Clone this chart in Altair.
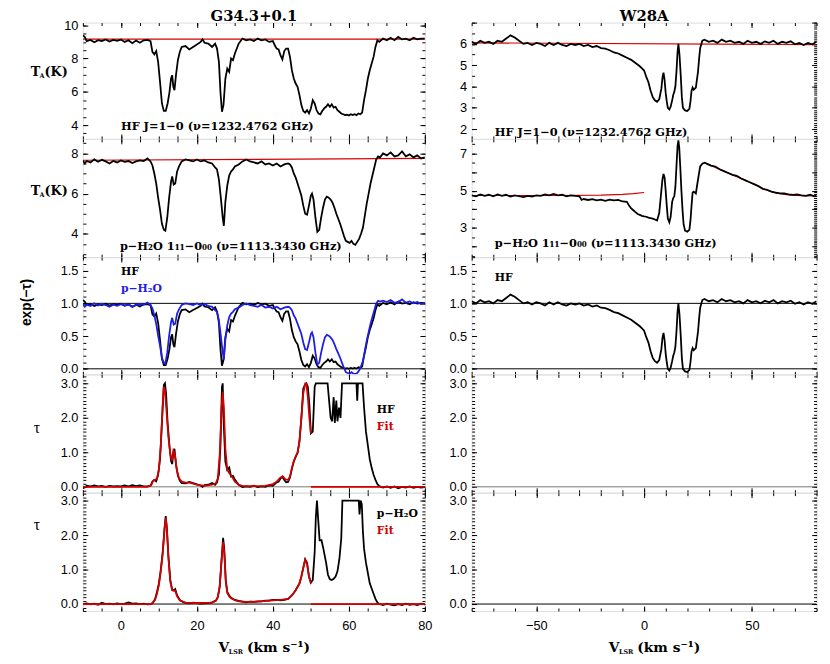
import altair as alt
import pandas as pd

# ======================= DATA =======================
# ---- G34.3+0.1 (left column), (velocity km/s, value) ----
G_HF_TA = [(-10,9.40),(-9.5,9.30),(-9,9.05),(-8,9.12),(-7,8.98),(-6,9.10),(-5,9.05),(-4,9.15),(-3,9.02),(-2,9.12),(-1,9.06),(0,9.14),(1,9.00),(2,9.10),(3,8.92),(4,9.08),(5,8.95),(6,9.10),(7,9.12),(7.8,9.05),(8.3,8.40),(8.8,8.25),(9.3,8.45),(9.8,7.8),(10.3,6.6),(10.8,5.3),(11.3,4.85),(11.8,4.85),(12.3,5.3),(12.8,6.0),(13.2,6.8),(13.5,7.0),(13.8,6.3),(14.1,6.1),(14.5,7.0),(15.0,7.9),(15.5,8.4),(16,8.7),(17,8.75),(18,8.55),(19,8.7),(20,8.85),(21,9.0),(21.5,9.15),(22,8.95),(23,8.9),(24,8.7),(24.8,8.9),(25.3,8.6),(25.8,7.8),(26.2,6.0),(26.6,4.8),(27.0,5.2),(27.5,6.8),(28.0,7.4),(28.5,7.2),(29.0,8.0),(29.5,7.9),(30.0,8.3),(31,8.9),(32,9.2),(33,9.1),(34,9.15),(35,9.05),(36,9.2),(37,9.1),(38,9.15),(39,9.0),(40,9.05),(40.5,8.8),(41,8.6),(41.5,8.55),(42,8.2),(42.5,7.95),(43,8.45),(43.5,8.6),(44,8.6),(44.5,8.1),(45,7.3),(45.5,6.8),(46,6.5),(46.5,6.3),(47,5.8),(47.5,5.2),(48,4.85),(48.5,4.75),(49,4.9),(49.5,4.7),(50,5.0),(50.5,5.5),(51,5.3),(51.5,4.9),(52,4.7),(52.5,4.65),(53,4.85),(53.5,5.0),(54,5.1),(54.5,5.25),(55,5.1),(55.5,5.25),(56,5.05),(56.5,5.1),(57,4.9),(57.5,4.8),(58,4.7),(58.5,4.65),(59,4.6),(59.5,4.62),(60,4.58),(60.5,4.65),(61,4.6),(61.5,4.65),(62,4.6),(62.5,4.7),(63,4.65),(63.5,4.75),(64,5.5),(64.5,6.1),(65,6.8),(65.5,7.3),(66,7.7),(66.5,8.1),(67,8.7),(67.5,9.1),(68,9.0),(69,9.2),(70,9.1),(71,9.25),(72,9.1),(73,9.3),(74,9.15),(75,9.2),(76,9.1),(77,9.25),(78,9.15),(79,9.2),(80,9.2)]
G_HF_CONT = [(-10,9.17),(80,9.17)]

G_H2O_TA = [(-10,7.65),(-9.5,7.50),(-9,7.62),(-8,7.55),(-7,7.70),(-6,7.58),(-5,7.68),(-4,7.60),(-3,7.50),(-2,7.62),(-1,7.55),(0,7.65),(1,7.58),(2,7.62),(3,7.52),(4,7.60),(5,7.65),(6,7.62),(7,7.75),(7.8,7.6),(8.3,7.4),(8.8,7.0),(9.3,6.5),(9.8,5.8),(10.3,5.2),(10.8,4.5),(11.3,4.2),(11.7,4.15),(12.2,4.8),(12.7,5.8),(13.2,6.6),(13.5,6.85),(13.9,6.45),(14.3,6.5),(14.8,7.1),(15.3,7.35),(16,7.6),(17,7.7),(18,7.65),(19,7.6),(20,7.7),(21,7.6),(22,7.65),(23,7.55),(24,7.5),(24.8,7.3),(25.3,7.2),(25.8,6.7),(26.3,5.8),(26.8,4.8),(27.1,4.4),(27.5,5.6),(28,6.4),(28.5,6.9),(29,7.1),(29.5,7.2),(30,7.35),(31,7.45),(32,7.6),(33,7.7),(34,7.6),(35,7.55),(36,7.5),(37,7.6),(38,7.45),(39,7.5),(40,7.4),(41,7.5),(42,7.35),(43,7.45),(44,7.5),(44.5,7.45),(45,7.3),(45.5,7.0),(46,6.8),(46.5,6.5),(47,6.2),(47.5,5.9),(48,5.4),(48.5,5.0),(49,4.95),(49.5,5.4),(50,5.9),(50.3,6.0),(50.7,5.7),(51.2,4.8),(51.7,4.1),(52.2,4.2),(52.7,4.8),(53.2,5.3),(53.7,5.7),(54.2,5.85),(54.7,5.8),(55.2,5.7),(55.7,5.55),(56.2,5.3),(56.7,5.0),(57.2,4.75),(57.7,4.5),(58.2,4.2),(58.7,3.9),(59.2,3.65),(59.7,3.6),(60.2,3.55),(60.7,3.65),(61.2,3.5),(61.7,3.45),(62.2,3.6),(62.7,3.75),(63.2,4.0),(63.7,4.3),(64.2,4.9),(64.7,5.5),(65.2,6.0),(65.7,6.5),(66.2,6.9),(66.7,7.3),(67.2,7.7),(67.7,7.85),(68.2,7.8),(69,8.0),(70,7.9),(71,8.05),(72,7.85),(73,7.9),(74,8.1),(75,7.85),(76,7.95),(77,7.8),(78,7.9),(79,7.75),(80,7.8)]
G_H2O_CONT = [(-10,7.66),(80,7.75)]

G_HF_EXP = [(-10,1.05),(-9.5,1.028),(-9,0.974),(-8,0.989),(-7,0.959),(-6,0.985),(-5,0.974),(-4,0.996),(-3,0.967),(-2,0.989),(-1,0.976),(0,0.993),(1,0.963),(2,0.985),(3,0.945),(4,0.98),(5,0.952),(6,0.985),(7,0.989),(7.8,0.974),(8.3,0.832),(8.8,0.799),(9.3,0.843),(9.8,0.701),(10.3,0.439),(10.8,0.156),(11.3,0.058),(11.8,0.058),(12.3,0.156),(12.8,0.309),(13.2,0.483),(13.5,0.527),(13.8,0.374),(14.1,0.33),(14.5,0.527),(15.0,0.723),(15.5,0.832),(16,0.897),(17,0.908),(18,0.865),(19,0.897),(20,0.93),(21,0.963),(21.5,0.996),(22,0.952),(23,0.941),(24,0.897),(24.8,0.941),(25.3,0.876),(25.8,0.701),(26.2,0.309),(26.6,0.047),(27.0,0.134),(27.5,0.483),(28.0,0.614),(28.5,0.57),(29.0,0.745),(29.5,0.723),(30.0,0.81),(31,0.941),(32,1.007),(33,0.985),(34,0.996),(35,0.974),(36,1.007),(37,0.985),(38,0.996),(39,0.963),(40,0.974),(40.5,0.919),(41,0.876),(41.5,0.865),(42,0.788),(42.5,0.734),(43,0.843),(43.5,0.876),(44,0.876),(44.5,0.767),(45,0.592),(45.5,0.483),(46,0.418),(46.5,0.374),(47,0.265),(47.5,0.134),(48,0.058),(48.5,0.036),(49,0.069),(49.5,0.025),(50,0.091),(50.5,0.2),(51,0.156),(51.5,0.069),(52,0.025),(52.5,0.014),(53,0.058),(53.5,0.091),(54,0.112),(54.5,0.145),(55,0.112),(55.5,0.145),(56,0.101),(56.5,0.112),(57,0.069),(57.5,0.047),(58,0.025),(58.5,0.014),(59,0.003),(59.5,0.008),(60,-0.001),(60.5,0.014),(61,0.003),(61.5,0.014),(62,0.003),(62.5,0.025),(63,0.014),(63.5,0.036),(64,0.2),(64.5,0.33),(65,0.483),(65.5,0.592),(66,0.679),(66.5,0.767),(67,0.897),(67.5,0.985),(68,0.963),(69,1.007),(70,0.985),(71,1.017),(72,0.985),(73,1.028),(74,0.996),(75,1.007),(76,0.985),(77,1.017),(78,0.996),(79,1.007),(80,1.007)]

G_H2O_EXP = [(-10,0.987),(-9.5,0.948),(-9,0.979),(-8,0.961),(-7,1.0),(-6,0.968),(-5,0.994),(-4,0.974),(-3,0.948),(-2,0.979),(-1,0.961),(0,0.987),(1,0.968),(2,0.979),(3,0.953),(4,0.974),(5,0.987),(6,0.979),(7,1.013),(7.8,0.974),(8.3,0.922),(8.8,0.818),(9.3,0.688),(9.8,0.506),(10.3,0.35),(10.8,0.169),(11.3,0.091),(11.7,0.078),(12.2,0.247),(12.7,0.506),(13.2,0.714),(13.5,0.779),(13.9,0.675),(14.3,0.688),(14.8,0.844),(15.3,0.909),(16,0.974),(17,1.0),(18,0.987),(19,0.974),(20,1.0),(21,0.974),(22,0.987),(23,0.961),(24,0.948),(24.8,0.896),(25.3,0.87),(25.8,0.74),(26.3,0.506),(26.8,0.247),(27.1,0.143),(27.5,0.454),(28,0.662),(28.5,0.792),(29,0.844),(29.5,0.87),(30,0.909),(31,0.935),(32,0.974),(33,1.0),(34,0.974),(35,0.961),(36,0.948),(37,0.974),(38,0.935),(39,0.948),(40,0.922),(41,0.948),(42,0.909),(43,0.935),(44,0.948),(44.5,0.935),(45,0.896),(45.5,0.818),(46,0.766),(46.5,0.688),(47,0.61),(47.5,0.532),(48,0.402),(48.5,0.299),(49,0.286),(49.5,0.402),(50,0.532),(50.3,0.558),(50.7,0.48),(51.2,0.247),(51.7,0.065),(52.2,0.091),(52.7,0.247),(53.2,0.376),(53.7,0.48),(54.2,0.519),(54.7,0.506),(55.2,0.48),(55.7,0.441),(56.2,0.376),(56.7,0.299),(57.2,0.234),(57.7,0.169),(58.2,0.091),(58.7,0.013),(59.2,-0.052),(59.7,-0.065),(60.2,-0.078),(60.7,-0.052),(61.2,-0.075),(61.7,-0.08),(62.2,-0.065),(62.7,-0.026),(63.2,0.039),(63.7,0.117),(64.2,0.273),(64.7,0.428),(65.2,0.558),(65.7,0.688),(66.2,0.792),(66.7,0.896),(67.2,1.0),(67.7,1.039),(68.2,1.026),(69,1.04),(70,1.02),(71,1.05),(72,1.01),(73,1.02),(74,1.06),(75,1.01),(76,1.03),(77,1.0),(78,1.02),(79,0.99),(80,1.01)]

G_HF_TAU = [(-10,-0.04),(-9.5,-0.02),(-9,0.03),(-8,0.01),(-7,0.04),(-6,0.015),(-5,0.03),(-4,0.0),(-3,0.03),(-2,0.01),(-1,0.02),(0,0.01),(1,0.04),(2,0.015),(3,0.05),(4,0.02),(5,0.04),(6,0.015),(7,0.01),(7.8,0.03),(8.3,0.15),(8.8,0.2),(9.3,0.16),(9.8,0.35),(10.3,0.8),(10.8,1.85),(11.3,2.95),(11.6,3.0),(11.9,2.7),(12.3,1.85),(12.8,1.17),(13.2,0.75),(13.5,0.66),(13.8,1.0),(14.1,1.1),(14.5,0.65),(15.0,0.32),(15.5,0.18),(16,0.11),(17,0.1),(18,0.14),(19,0.11),(20,0.07),(21,0.04),(21.5,0.0),(22,0.05),(23,0.06),(24,0.11),(24.8,0.06),(25.3,0.13),(25.8,0.36),(26.2,1.17),(26.6,2.9),(26.8,3.0),(27.0,2.0),(27.5,0.73),(28.0,0.49),(28.5,0.56),(29.0,0.3),(29.5,0.32),(30.0,0.21),(31,0.06),(32,-0.01),(33,0.015),(34,0.0),(35,0.03),(36,-0.01),(37,0.015),(38,0.0),(39,0.04),(40,0.03),(40.5,0.08),(41,0.13),(41.5,0.15),(42,0.24),(42.5,0.3),(43,0.2),(43.5,0.13),(44,0.14),(44.5,0.27),(45,0.52),(45.5,0.73),(46,0.87),(46.5,0.98),(47,1.33),(47.5,2.0),(48,2.85),(48.4,2.95),(48.8,3.0),(49.2,2.9),(49.6,2.4),(50.0,1.55),(50.5,1.6),(51.0,2.9),(51.3,3.0),(54.4,3.0),(54.8,2.5),(55.2,2.0),(55.6,1.9),(56.0,2.6),(56.3,1.85),(56.7,2.5),(57.0,1.9),(57.4,2.3),(57.8,2.0),(58.2,3.0),(62.0,3.0),(62.2,2.5),(62.4,3.0),(63.6,3.0),(64.0,2.3),(64.5,1.6),(65.0,1.2),(65.5,0.8),(66.0,0.55),(66.5,0.35),(67.0,0.2),(67.5,0.08),(68,0.02),(69,-0.02),(70,0.01),(71,-0.03),(72,0.01),(73,-0.04),(74,0.0),(75,-0.02),(76,0.01),(77,-0.03),(78,0.0),(79,-0.02),(80,-0.01)]
G_HF_FIT = [(-10,0.0),(7,0.0),(8,0.05),(8.5,0.18),(9,0.2),(9.5,0.24),(10,0.5),(10.5,1.2),(11,2.4),(11.3,2.9),(11.6,2.8),(12,2.2),(12.5,1.45),(13,0.95),(13.4,0.75),(13.8,1.05),(14.2,0.95),(14.7,0.5),(15.3,0.25),(16,0.15),(17,0.12),(18,0.12),(19,0.09),(20,0.06),(22,0.03),(24,0.06),(25,0.1),(25.5,0.25),(26,0.9),(26.5,2.3),(26.8,2.75),(27.1,2.3),(27.5,1.1),(28,0.5),(28.5,0.4),(29,0.33),(29.5,0.25),(30,0.15),(31,0.06),(32,0.03),(35,0.02),(38,0.03),(40,0.08),(41,0.15),(42,0.27),(42.7,0.3),(43.3,0.22),(44,0.2),(44.5,0.3),(45,0.55),(45.5,0.75),(46,0.88),(46.5,1.0),(47,1.3),(47.5,2.0),(48,2.7),(48.5,3.0),(48.8,3.0),(49.2,2.6),(49.6,2.0),(50,1.55)]
G_HF_FIT_TAIL = [(50,0.0),(80,0.0)]

G_H2O_TAU = [(-10,0.0),(-9,0.02),(-8,-0.01),(-7,0.01),(-6,-0.02),(-5,0.04),(-4,0.0),(-3,0.01),(-2,-0.01),(-1,0.02),(0,0.0),(1,0.01),(2,0.05),(3,0.01),(4,0.02),(5,0.0),(6,0.01),(7,-0.01),(8,0.0),(8.5,0.05),(9,0.15),(9.5,0.35),(10,0.6),(10.5,1.0),(11,1.5),(11.5,2.2),(11.8,2.55),(12.1,2.2),(12.5,1.4),(13,0.7),(13.5,0.42),(14,0.4),(14.3,0.43),(14.8,0.25),(15.5,0.12),(16.5,0.05),(18,0.02),(19,0.04),(20,0.03),(21,0.01),(22,0.02),(23,0.03),(24,0.05),(25,0.1),(25.5,0.2),(26,0.5),(26.5,1.3),(26.9,1.92),(27.2,1.6),(27.6,0.7),(28,0.35),(28.5,0.25),(29,0.18),(30,0.12),(31,0.09),(32,0.07),(33,0.05),(34,0.07),(35,0.06),(36,0.08),(37,0.08),(38,0.1),(39,0.1),(40,0.12),(41,0.12),(42,0.11),(43,0.12),(44,0.15),(45,0.25),(46,0.4),(47,0.6),(47.5,0.8),(48,1.05),(48.5,1.3),(49,1.2),(49.5,0.8),(50,0.62),(50.5,0.7),(51,1.5),(51.3,2.5),(51.6,3.0),(51.9,2.5),(52.3,1.85),(52.8,1.85),(53.3,1.6),(54,1.2),(54.5,0.85),(55,0.72),(55.5,0.7),(56,0.73),(56.5,0.8),(57,0.95),(57.5,1.3),(58,1.9),(58.3,3.0),(62.6,3.0),(62.8,2.6),(63.1,3.0),(63.4,2.9),(63.7,2.1),(64,1.6),(64.5,1.2),(65,0.9),(65.5,0.6),(66,0.45),(66.5,0.3),(67,0.15),(67.5,0.05),(68,0.0),(69,-0.03),(70,0.01),(71,-0.02),(72,-0.04),(73,0.0),(74,-0.03),(75,0.01),(76,-0.02),(77,0.0),(78,-0.03),(79,0.01),(80,-0.01)]
G_H2O_FIT = [(-10,0.0),(8,0.0),(9,0.12),(9.5,0.3),(10,0.55),(10.5,0.95),(11,1.45),(11.5,2.2),(11.8,2.5),(12.1,2.2),(12.5,1.35),(13,0.65),(13.5,0.4),(14,0.38),(14.3,0.38),(14.8,0.22),(15.5,0.1),(17,0.04),(20,0.03),(24,0.04),(25,0.09),(25.5,0.2),(26,0.5),(26.5,1.25),(26.9,1.8),(27.2,1.5),(27.6,0.65),(28,0.32),(28.5,0.22),(29,0.17),(30,0.11),(31,0.08),(33,0.06),(36,0.07),(39,0.1),(42,0.12),(44,0.15),(45,0.25),(46,0.4),(47,0.6),(47.5,0.8),(48,1.05),(48.5,1.28),(49,1.15),(49.5,0.8),(50,0.62)]
G_H2O_FIT_TAIL = [(50,0.0),(80,0.0)]
G_ZERO = [(-10,0.0),(80,0.0)]
G_ONE = [(-10,1.0),(80,1.0)]

# ---- W28A (right column) ----
W_HF_TA = [(-80,6.1),(-78,6.0),(-76,6.15),(-74,6.05),(-72,6.1),(-70,6.0),(-68,6.15),(-66,6.1),(-64,6.25),(-62,6.4),(-60,6.3),(-58,6.15),(-56,6.0),(-54,6.05),(-52,5.95),(-50,6.05),(-48,6.0),(-46,5.9),(-44,6.05),(-42,5.95),(-40,6.05),(-38,5.95),(-36,5.9),(-34,6.0),(-32,5.95),(-30,6.0),(-28,5.9),(-26,5.95),(-24,5.85),(-22,5.9),(-20,5.8),(-18,5.78),(-16,5.7),(-14,5.6),(-12,5.55),(-10,5.45),(-8,5.35),(-6,5.25),(-4,5.1),(-2,4.95),(-1,4.85),(0,4.75),(1,4.45),(2,4.2),(3,3.8),(4,3.5),(5,3.35),(6,3.28),(7,3.4),(8,3.9),(8.5,4.4),(9,4.65),(9.5,4.3),(10,3.7),(10.5,3.3),(11,3.0),(11.7,2.92),(12.3,3.05),(13,3.35),(13.5,3.6),(14,3.75),(14.5,4.0),(15,4.7),(15.5,5.6),(15.9,6.0),(16.4,5.5),(17,4.5),(17.5,3.5),(18,3.0),(19,2.88),(20,2.85),(21,2.95),(21.5,3.3),(22,3.8),(22.5,3.95),(23,3.85),(24,3.95),(25,4.7),(25.5,5.3),(26,5.8),(27,6.15),(28,6.2),(30,6.1),(32,6.15),(34,6.05),(36,6.2),(38,6.1),(40,6.15),(42,6.05),(44,6.1),(46,6.0),(48,6.15),(50,6.05),(52,6.1),(54,6.0),(56,6.12),(58,6.05),(60,6.15),(62,6.0),(64,6.1),(66,6.05),(68,6.12),(70,5.98),(72,6.05),(74,5.95),(76,6.05),(78,5.98),(80,6.1)]
W_HF_CONT = [(-80,6.05),(80,5.97)]

W_H2O_TA = [(-80,4.75),(-78,4.7),(-76,4.8),(-74,4.72),(-72,4.78),(-70,4.7),(-68,4.8),(-66,4.72),(-64,4.78),(-62,4.68),(-60,4.75),(-58,4.7),(-56,4.65),(-54,4.72),(-52,4.68),(-50,4.75),(-48,4.72),(-46,4.8),(-44,4.75),(-42,4.82),(-40,4.75),(-38,4.78),(-36,4.7),(-34,4.75),(-32,4.72),(-30,4.7),(-29,4.5),(-28,4.55),(-26,4.5),(-24,4.55),(-22,4.48),(-20,4.52),(-18,4.45),(-16,4.52),(-14,4.48),(-12,4.5),(-10,4.42),(-8,4.4),(-7,4.2),(-6,4.05),(-5,3.95),(-4,3.85),(-3,3.75),(-2,3.7),(-1,3.65),(0,3.62),(1,3.6),(2,3.55),(3,3.52),(4,3.5),(5,3.45),(6,3.4),(7,3.8),(7.5,4.4),(8,5.0),(8.5,5.6),(9,5.9),(9.5,5.7),(10,5.0),(10.5,4.2),(11,3.5),(11.7,3.3),(12.3,3.6),(13,4.4),(13.5,4.6),(14,4.7),(14.5,5.2),(15,6.3),(15.5,7.4),(15.9,7.7),(16.3,7.3),(16.8,6.2),(17.3,5.0),(17.8,4.0),(18.3,3.2),(19,2.85),(20,2.8),(21,2.9),(21.5,3.4),(22,4.2),(22.5,4.9),(23,4.95),(24,4.85),(25,5.6),(26,6.3),(27,6.45),(28,6.5),(29,6.45),(31,6.35),(33,6.3),(35,6.15),(37,6.05),(39,5.95),(41,5.85),(43,5.8),(45,5.65),(47,5.55),(49,5.45),(51,5.35),(53,5.25),(55,5.1),(57,5.05),(59,4.95),(61,4.9),(63,4.85),(65,4.85),(67,4.8),(69,4.78),(71,4.8),(73,4.75),(75,4.72),(77,4.78),(79,4.7),(80,4.72)]
W_H2O_CONT_L = [(-80,4.74),(-40,4.74),(-20,4.76),(-10,4.8),(-5,4.84),(0,4.9)]
W_H2O_CONT_R = [(29,6.45),(33,6.25),(37,6.05),(41,5.85),(45,5.65),(49,5.45),(53,5.22),(57,5.02),(61,4.88),(65,4.8),(70,4.75),(80,4.72)]

W_HF_EXP = [(-80,1.033),(-78,1.0),(-76,1.05),(-74,1.017),(-72,1.033),(-70,1.0),(-68,1.05),(-66,1.033),(-64,1.083),(-62,1.133),(-60,1.1),(-58,1.05),(-56,1.0),(-54,1.017),(-52,0.983),(-50,1.017),(-48,1.0),(-46,0.967),(-44,1.017),(-42,0.983),(-40,1.017),(-38,0.983),(-36,0.967),(-34,1.0),(-32,0.983),(-30,1.0),(-28,0.967),(-26,0.983),(-24,0.95),(-22,0.967),(-20,0.933),(-18,0.927),(-16,0.9),(-14,0.867),(-12,0.85),(-10,0.817),(-8,0.783),(-6,0.75),(-4,0.7),(-2,0.65),(-1,0.617),(0,0.583),(1,0.483),(2,0.4),(3,0.267),(4,0.167),(5,0.117),(6,0.093),(7,0.133),(8,0.3),(8.5,0.467),(9,0.55),(9.5,0.433),(10,0.233),(10.5,0.1),(11,0.0),(11.7,-0.027),(12.3,0.017),(13,0.117),(13.5,0.2),(14,0.25),(14.5,0.333),(15,0.567),(15.5,0.867),(15.9,1.0),(16.4,0.833),(17,0.5),(17.5,0.167),(18,0.0),(19,-0.04),(20,-0.05),(21,-0.017),(21.5,0.1),(22,0.267),(22.5,0.317),(23,0.283),(24,0.317),(25,0.567),(25.5,0.767),(26,0.933),(27,1.05),(28,1.067),(30,1.033),(32,1.05),(34,1.017),(36,1.067),(38,1.033),(40,1.05),(42,1.017),(44,1.033),(46,1.0),(48,1.05),(50,1.017),(52,1.033),(54,1.0),(56,1.04),(58,1.017),(60,1.05),(62,1.0),(64,1.033),(66,1.017),(68,1.04),(70,0.993),(72,1.017),(74,0.983),(76,1.017),(78,0.993),(80,1.033)]
W_ZERO = [(-80,0.0),(80,0.0)]
W_ONE = [(-80,1.0),(80,1.0)]

# axis ranges and tick values
G_XDOM = (-10, 80); W_XDOM = (-80, 80)
G_XMAJ = [0, 20, 40, 60, 80]; W_XMAJ = [-50, 0, 50]
YDOM = {
    "g1": (3.17, 10.16), "g2": (2.84, 8.72), "g3": (-0.086, 1.706), "g4": (-0.17, 3.26), "g5": (-0.2, 3.23),
    "w1": (1.54, 7.0), "w2": (1.43, 7.78), "w3": (-0.086, 1.706), "w4": (-0.17, 3.26), "w5": (-0.2, 3.23),
}
TITLES = ["G34.3+0.1", "W28A"]

# ======================= STYLE =======================
SANS = "Liberation Sans"
SERIF = "DejaVu Serif"
RED = "#d40000"
BLUE = "#1e1ee8"
TMAJ, TMIN = 5, 3
GW, WW = 347, 350
HS = [118, 120, 119, 120, 120]


def df_of(pairs):
    return pd.DataFrame(pairs, columns=["v", "y"])


def ticks_in(dom, step):
    lo, hi = dom
    out = []
    k = int(lo // step) - 1
    while k * step <= hi + 1e-9:
        t = round(k * step, 6)
        if lo - 1e-9 <= t <= hi + 1e-9:
            out.append(t)
        k += 1
    return out


def tick_axis(orient, values, size):
    return alt.Axis(orient=orient, values=values, offset=-size, tickSize=size,
                    labels=False, domain=False, grid=False, title=None,
                    tickColor="black", tickWidth=1)


def xlabel_axis(values):
    return alt.Axis(orient="bottom", values=values, format="d", ticks=False, domain=False,
                    grid=False, title=None, labelFont=SANS, labelFontSize=13, labelColor="black",
                    labelPadding=9, labelFlush=False, labelOverlap=False, labelBound=False)


def ylabel_axis(values, fmt):
    return alt.Axis(orient="left", values=values, format=fmt, ticks=False, domain=False,
                    grid=False, title=None, labelFont=SANS, labelFontSize=13, labelColor="black",
                    labelPadding=5, labelFlush=False, labelOverlap=False, labelBound=False)


def txt(s, x, y, size=11.5, color="black", font=SERIF, weight="bold", align="left", angle=None):
    mk = dict(font=font, fontSize=size, fontWeight=weight, color=color, align=align, baseline="middle")
    if angle is not None:
        mk["angle"] = angle
    return alt.Chart(pd.DataFrame({"t": [s]})).mark_text(**mk).encode(
        x=alt.value(x), y=alt.value(y), text="t:N")


def ta_title(y):
    return [txt("T", -53, y, 13), txt("A", -44, y + 4, 6.5), txt("(K)", -39, y, 13)]


def vlsr_title(w, h):
    cx = w / 2
    y = h + 38
    return [txt("V", cx - 36, y, 14), txt("LSR", cx - 25.5, y + 4, 6.5),
            txt("(km s\u207b\u00b9)", cx - 7, y, 14)]


def panel(w, h, xdom, ydom, xmaj, xstep, ymaj, ylstep, yrstep, ylabs, yfmt,
          lines, texts, xlabels=False):
    xs = alt.Scale(domain=list(xdom), nice=False, zero=False)
    ys = alt.Scale(domain=list(ydom), nice=False, zero=False)
    xm = [t for t in xmaj if xdom[0] <= t <= xdom[1]]
    ym = [t for t in ymaj if ydom[0] <= t <= ydom[1]]
    x_axes = [xlabel_axis(xm) if xlabels else None,
              tick_axis("bottom", xm, TMAJ), tick_axis("bottom", ticks_in(xdom, xstep), TMIN),
              tick_axis("top", xm, TMAJ), tick_axis("top", ticks_in(xdom, xstep), TMIN)]
    y_axes = [ylabel_axis(ylabs, yfmt),
              tick_axis("left", ym, TMAJ), tick_axis("left", ticks_in(ydom, ylstep), TMIN),
              tick_axis("right", ym, TMAJ), tick_axis("right", ticks_in(ydom, yrstep), TMIN)]
    anchor = df_of(lines[0][0])
    layers = []
    for xa, ya in zip(x_axes, y_axes):
        layers.append(alt.Chart(anchor).mark_point(opacity=0).encode(
            x=alt.X("v:Q", scale=xs, axis=xa), y=alt.Y("y:Q", scale=ys, axis=ya)))
    for pairs, color, sw in lines:
        layers.append(alt.Chart(df_of(pairs)).mark_line(color=color, strokeWidth=sw, clip=True).encode(
            x=alt.X("v:Q", scale=xs, axis=None), y=alt.Y("y:Q", scale=ys, axis=None)))
    layers += texts
    return alt.layer(*layers).properties(width=w, height=h).resolve_axis(x="independent", y="independent")


LW = 1.8
ANN1 = "HF J=1\u22120 (\u03bd=1232.4762 GHz)"
ANN2 = "p\u2212H\u2082O 1\u2081\u2081\u22120\u2080\u2080  (\u03bd=1113.3430 GHz)"
PH2O = "p\u2212H\u2082O"

g1 = panel(GW, HS[0], G_XDOM, YDOM["g1"], G_XMAJ, 5, [4, 6, 8, 10], 0.5, 0.5, [4, 6, 8, 10], "d",
           [(G_HF_CONT, RED, 1.2), (G_HF_TA, "black", LW)],
           [txt(ANN1, 38.6, 106), txt(TITLES[0], GW / 2, -7, 15, align="center")] + ta_title(50))
g2 = panel(GW, HS[1], G_XDOM, YDOM["g2"], G_XMAJ, 5, [4, 6, 8], 0.5, 0.5, [4, 6, 8], "d",
           [(G_H2O_CONT, RED, 1.2), (G_H2O_TA, "black", LW)],
           [txt(ANN2, 37.6, 110)] + ta_title(53))
g3 = panel(GW, HS[2], G_XDOM, YDOM["g3"], G_XMAJ, 5, [0, 0.5, 1, 1.5], 0.1, 0.1, [0, 0.5, 1, 1.5], ".1f",
           [(G_ZERO, "black", 1), (G_ONE, "black", 1), (G_HF_EXP, "black", LW), (G_H2O_EXP, BLUE, LW)],
           [txt("HF", 38.6, 14.7, 11), txt(PH2O, 38.6, 32.7, 11, BLUE),
            txt("exp(\u2212\u03c4)", -56.5, 46, 14, font=SANS, align="center", angle=270)])
g4 = panel(GW, HS[3], G_XDOM, YDOM["g4"], G_XMAJ, 5, [0, 1, 2, 3], 0.1, 0.1, [0, 1, 2, 3], ".1f",
           [(G_ZERO, "#777777", 1), (G_HF_TAU, "black", LW), (G_HF_FIT, RED, LW), (G_HF_FIT_TAIL, RED, LW)],
           [txt("HF", 298.3, 35.7, 11), txt("Fit", 298.3, 53.7, 11, RED),
            txt("\u03c4", -46.7, 54.7, 16, font="Liberation Serif", weight="normal", align="center")])
g5 = panel(GW, HS[4], G_XDOM, YDOM["g5"], G_XMAJ, 5, [0, 1, 2, 3], 0.1, 0.1, [0, 1, 2, 3], ".1f",
           [(G_ZERO, "black", 1), (G_H2O_TAU, "black", LW), (G_H2O_FIT, RED, LW), (G_H2O_FIT_TAIL, RED, LW)],
           [txt(PH2O, 298.3, 22, 11), txt("Fit", 298.3, 39, 11, RED),
            txt("\u03c4", -46.7, 33, 16, font="Liberation Serif", weight="normal", align="center")]
           + vlsr_title(GW, HS[4]), xlabels=True)

w1 = panel(WW, HS[0], W_XDOM, YDOM["w1"], W_XMAJ, 10, [2, 3, 4, 5, 6, 7], 0.5, 0.1, [2, 3, 4, 5, 6], "d",
           [(W_HF_CONT, RED, 1.2), (W_HF_TA, "black", LW)],
           [txt(ANN1, 23.5, 112), txt(TITLES[1], WW / 2, -7, 15, align="center")])
w2 = panel(WW, HS[1], W_XDOM, YDOM["w2"], W_XMAJ, 10, [2, 3, 4, 5, 6, 7], 0.5, 0.1, [3, 5, 7], "d",
           [(W_H2O_CONT_L, RED, 1.2), (W_H2O_CONT_R, RED, 1.2), (W_H2O_TA, "black", LW)],
           [txt(ANN2, 23.5, 107)])
w3 = panel(WW, HS[2], W_XDOM, YDOM["w3"], W_XMAJ, 10, [0, 0.5, 1, 1.5], 0.1, 0.1, [0, 0.5, 1, 1.5], ".1f",
           [(W_ZERO, "black", 1), (W_ONE, "black", 1), (W_HF_EXP, "black", LW)],
           [txt("HF", 23.5, 21, 11)])
w4 = panel(WW, HS[3], W_XDOM, YDOM["w4"], W_XMAJ, 10, [0, 1, 2, 3], 0.1, 0.1, [0, 1, 2, 3], ".1f",
           [(W_ZERO, "#777777", 1)], [])
w5 = panel(WW, HS[4], W_XDOM, YDOM["w5"], W_XMAJ, 10, [0, 1, 2, 3], 0.1, 0.1, [0, 1, 2, 3], ".1f",
           [(W_ZERO, "black", 1)], vlsr_title(WW, HS[4]), xlabels=True)

left = alt.vconcat(g1, g2, g3, g4, g5, spacing=0, bounds="flush")
right = alt.vconcat(w1, w2, w3, w4, w5, spacing=0, bounds="flush")

chart = alt.hconcat(left, right, spacing=15.5).properties(
    padding={"left": 12, "top": -5, "right": 2, "bottom": 2}
).configure_view(stroke="black", strokeWidth=1.5).configure(background="white")

chart.save("out.html", embed_options={"renderer": "svg", "actions": False})
